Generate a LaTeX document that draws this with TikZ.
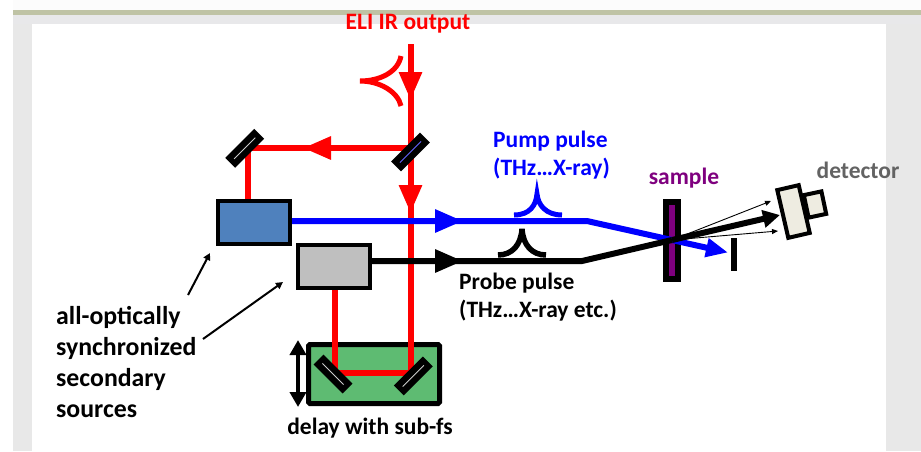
\documentclass[tikz,border=0pt]{standalone}
\usepackage{fontspec}
\setmainfont{Carlito}
\usetikzlibrary{shapes,arrows.meta,positioning,backgrounds}
\definecolor{pumpfill}{HTML}{4F81BD}
\definecolor{probefill}{HTML}{BFBFBF}
\definecolor{delayfill}{HTML}{5EBB72}
\definecolor{detfill}{HTML}{EEECE1}
\definecolor{samplefill}{HTML}{7F007F}
\definecolor{greytext}{HTML}{636363}
\definecolor{barcolor}{HTML}{BFC3A5}
\newcommand{\mirrorline}[1]{\textcolor{#1}{\rule[-0.4pt]{30pt}{0.8pt}}}

\begin{document}
\begin{tikzpicture}[x=1pt, y=-1pt,
    source/.style={rectangle, draw, line width=4pt, minimum width=72pt, minimum height=43pt, inner sep=0pt},
    mirror/.style={rectangle, fill=black, minimum width=41pt, minimum height=14pt, inner sep=0pt},
    beam/.style={line width=6pt},
    tipped/.style={beam, -{Triangle[length=28pt, width=22pt]}},
    pulse/.style={line width=5pt},
    ray/.style={draw, -{Triangle[length=6pt, width=5pt]}, line width=0.9pt},
    pointer/.style={draw, -{Triangle[length=7pt, width=7pt]}, line width=2pt},
    caption/.style={font=\fontsize{23.5}{28}\selectfont\bfseries, inner sep=0pt, align=left}]
    \useasboundingbox (0,0) rectangle (921,451);

    % Nodes
    \node [source, fill=pumpfill, anchor=north west] (pump) at (216,199) {};
    \node [source, fill=probefill, below right=-3pt and 4pt of pump] (probe) {};
    \node [mirror, rotate=45] (fold) at (244.7,148.3) {\mirrorline{white!80!black}};
    \node [mirror, rotate=45] (split) at (410.5,152) {\mirrorline{blue!60!white}};
    \node [mirror, rotate=-45] (delayl) at (333,374) {\mirrorline{white!80!black}};
    \node [mirror, rotate=45] (delayr) at (413.3,376) {\mirrorline{white!80!black}};
    \node [rectangle, draw, line width=6pt, fill=samplefill, minimum width=12pt, minimum height=77pt, inner sep=0pt] (sample) at (672,240.5) {};
    \node [rectangle, fill=black, minimum width=6pt, minimum height=33pt, inner sep=0pt] (block) at (734,254.5) {};
    \node [rectangle, draw, line width=4pt, fill=detfill, minimum width=18pt, minimum height=23pt, inner sep=0pt, rotate=12] (detneck) at (815,204.5) {};
    \node [rectangle, draw, line width=4pt, fill=detfill, minimum width=22pt, minimum height=49pt, inner sep=0pt, rotate=13] (detector) at (793.5,211.5) {};

    \coordinate (irin) at (410.5,44);
    \coordinate (foldpt) at (248,148);
    \coordinate (delaya) at (335,373);
    \coordinate (delayb) at (411,373);
    \coordinate (cross) at (672,240);
    \coordinate (pumpbend) at (587,221);
    \coordinate (probebend) at (582,261);

    % Red beams and delay stage
    \begin{pgfonlayer}{background}
      \fill [white] (0,0) rectangle (921,451);
      \fill [black!1] (13,0) rectangle (921,10);
      \fill [black!9] (13,24) rectangle (921,451);
      \fill [white] (32,24) rectangle (886,451);
      \fill [blue!10!black!9] (13,15) rectangle (921,24);
      \fill [barcolor] (13,10) rectangle (921,15);
      \node [rectangle, draw, line width=5pt, rounded corners=1.5pt, fill=delayfill, minimum width=131pt, minimum height=59pt, inner sep=0pt, anchor=north west] (delay) at (306,342) {};
      \draw [beam, red] (probe.south -| delaya) -- (delaya) -- (delayb) -- (split.center -| delayb);
      \draw [beam, red] (foldpt) -- (pump.north -| foldpt);
      \draw [beam, red] (split.center |- foldpt) -- (foldpt);
      \draw [tipped, red] (split.center |- foldpt) -- (303,148);
      \draw [beam, red] (irin) -- (split.center);
      \draw [tipped, red] (irin) -- (410.5,100);
      \draw [tipped, red] (split.center) -- (410.5,213);
    \end{pgfonlayer}

    % Edges
    \draw [beam, blue] (pump.east |- pumpbend) -- (pumpbend) -- (cross);
    \draw [tipped, blue] (pump.east |- pumpbend) -- (463,221);
    \draw [beam, blue, -{Triangle[length=22pt, width=18pt]}] (cross) -- (728,252.5);
    \draw [beam, black] (probe.east |- probebend) -- (probebend) -- (cross);
    \draw [tipped, black] (probe.east |- probebend) -- (463,261);
    \draw [beam, black, -{Triangle[length=17pt, width=17pt]}] (cross) -- (780,215);
    \path [ray] (cross) -- (771,201);
    \path [ray] (cross) -- (778,231);
    \draw [line width=4pt, {Triangle[length=15pt, width=16pt]}-{Triangle[length=15pt, width=16pt]}] (298,340) -- (298,407);

    % Pulses
    \draw [pulse, red] (401,56) .. controls (398,72) and (380,81) .. (360,81) .. controls (380,81) and (398,92) .. (401,106);
    \draw [pulse, blue] (514,215) .. controls (530,215) and (536,205) .. (537,194) .. controls (538,205) and (546,215) .. (562,215);
    \draw [pulse, black, line width=5.5pt] (498,255) .. controls (512,255) and (521,245) .. (522,229) .. controls (523,245) and (532,255) .. (546,255);

    % Annotations
    \node [caption, text=red] (title) at (408,23.5) {ELI IR output};
    \node [caption, text=blue, anchor=west] (pumplabel) at (493,155) {Pump pulse\\(THz…X-ray)};
    \node [caption, text=black, anchor=west] (probelabel) at (459,297) {Probe pulse\\(THz…X-ray etc.)};
    \node [caption, text=samplefill] (samplelabel) at (684,178.5) {sample};
    \node [caption, text=greytext] (detlabel) at (858,170) {detector};
    \node [caption, font=\fontsize{25.8}{30.7}\selectfont\bfseries, anchor=west] (sourcelabel) at (56,362) {all-optically\\synchronized\\secondary\\sources};
    \node [caption] (delaylabel) at (370,428) {delay with sub-fs};

    \coordinate (ptra) at (188,295);
    \coordinate (ptrb) at (203,339);
    \path [pointer] (ptra) -- (210,253);
    \path [pointer] (ptrb) -- (283,282);
\end{tikzpicture}
\end{document}
